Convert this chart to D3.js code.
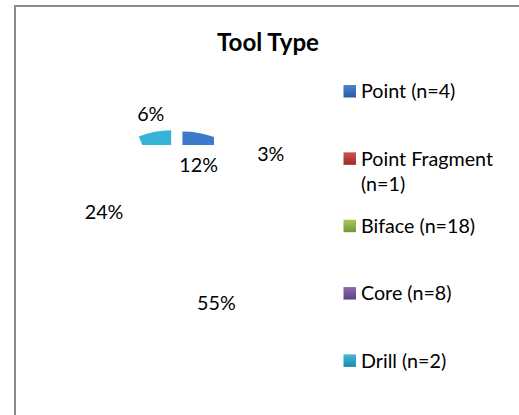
<!DOCTYPE html>
<html>
<head>
<meta charset="utf-8">
<script src="https://cdn.jsdelivr.net/npm/d3@7"></script>
<style>
  html, body { margin: 0; padding: 0; background: #ffffff; }
  svg { display: block; }
  text { font-family: Lato, "Open Sans", sans-serif; fill: #000; }
</style>
</head>
<body>
<svg id="chart" width="519" height="415"></svg>
<script>
// ---- data ----
const title = "Tool Type";
const categories = ["Point", "Point Fragment", "Biface", "Core", "Drill"];
const counts = [4, 1, 18, 8, 2];
const sliceColors = ["#3d7bca", "#c0504d", "#9bbb59", "#8064a2", "#36b3d6"];
const legendTop = ["#4a85d0", "#d0524e", "#a9c95c", "#8b6bb2", "#41badb"];
const legendBottom = ["#2b5a9b", "#9a2c29", "#76973a", "#5c4283", "#1f88a6"];

const total = d3.sum(counts);
const legendLabels = categories.map((c, i) => `${c} (n=${counts[i]})`);
const pctLabels = counts.map(v => Math.round(v / total * 100) + "%");

const svg = d3.select("#chart");
const W = 519, H = 415;

// Chart border (extends past the right/bottom edge)
svg.append("rect")
  .attr("x", 15).attr("y", 6)
  .attr("width", W + 40).attr("height", H + 40)
  .attr("fill", "#fff").attr("stroke", "#8a8a8a").attr("stroke-width", 2);

// font sizing to approximate Calibri metrics
function fitSize(str, base, target, weight) {
  const t = svg.append("text").attr("font-size", base).attr("font-weight", weight || "normal").text(str);
  const w = t.node().getComputedTextLength();
  t.remove();
  return base * target / w;
}
const fs = fitSize("Point Fragment", 21, 132);
const titleFs = fitSize(title, 25, 102, "bold");

// Title
svg.append("text")
  .attr("x", 268).attr("y", 50.5)
  .attr("text-anchor", "middle")
  .attr("font-weight", "bold")
  .attr("font-size", titleFs)
  .text(title);

// ---- pie ----
const cx = 175, cy = 237, R = 87, explode = 20;
const pie = d3.pie().sort(null).value(d => d);
const arcs = pie(counts);
const arc = d3.arc().innerRadius(0).outerRadius(R);

const defs = svg.append("defs");
defs.append("clipPath").attr("id", "pieClip")
  .append("rect").attr("x", 137).attr("y", 0).attr("width", 77).attr("height", 145);

const slices = svg.append("g").attr("clip-path", "url(#pieClip)")
  .append("g").attr("transform", `translate(${cx},${cy})`);

function bisector(d) { return (d.startAngle + d.endAngle) / 2; }

slices.selectAll("path")
  .data(arcs)
  .join("path")
  .attr("transform", d => {
    const a = bisector(d);
    return `translate(${explode * Math.sin(a)},${-explode * Math.cos(a)})`;
  })
  .attr("d", arc)
  .attr("fill", (d, i) => sliceColors[i]);

// Percent labels
const labelCx = 176, labelCy = 238, rIn = 76.5, rOut = 126.5, inShift = -0.08;
function labelPos(d) {
  const small = (d.data / total) < 0.1;
  const r = small ? rOut : rIn;
  const a = bisector(d) + (small ? -0.01 : inShift);
  return [labelCx + r * Math.sin(a), labelCy - r * Math.cos(a)];
}
svg.append("g").selectAll("text")
  .data(arcs)
  .join("text")
  .attr("text-anchor", "middle")
  .attr("font-size", fs)
  .attr("x", d => labelPos(d)[0])
  .attr("y", d => labelPos(d)[1] + fs * 0.36)
  .text((d, i) => pctLabels[i]);

// ---- legend ----
const legendY = d3.scalePoint().domain(legendLabels).range([98.3, 367.7]);
legendLabels.forEach((lab, i) => {
  const gr = defs.append("linearGradient").attr("id", "lg" + i)
    .attr("x1", 0).attr("y1", 0).attr("x2", 0).attr("y2", 1);
  gr.append("stop").attr("offset", "0%").attr("stop-color", legendTop[i]);
  gr.append("stop").attr("offset", "100%").attr("stop-color", legendBottom[i]);
});

const lg = svg.append("g");
const items = lg.selectAll("g").data(legendLabels).join("g")
  .attr("transform", d => `translate(0,${legendY(d)})`);
items.append("rect")
  .attr("x", 343.5).attr("y", -13.3)
  .attr("width", 12.5).attr("height", 12.5)
  .attr("fill", (d, i) => `url(#lg${i})`);
items.append("text")
  .attr("x", 361).attr("y", 0)
  .attr("font-size", fs)
  .each(function(d) {
    const t = d3.select(this);
    const maxW = 150;
    const words = d.split(" ");
    let line = [];
    let tspan = t.append("tspan").attr("x", 361).attr("dy", 0);
    words.forEach(w => {
      line.push(w);
      tspan.text(line.join(" "));
      if (tspan.node().getComputedTextLength() > maxW && line.length > 1) {
        line.pop();
        tspan.text(line.join(" "));
        line = [w];
        tspan = t.append("tspan").attr("x", 361).attr("dy", 25).text(w);
      }
    });
  });
</script>
</body>
</html>
